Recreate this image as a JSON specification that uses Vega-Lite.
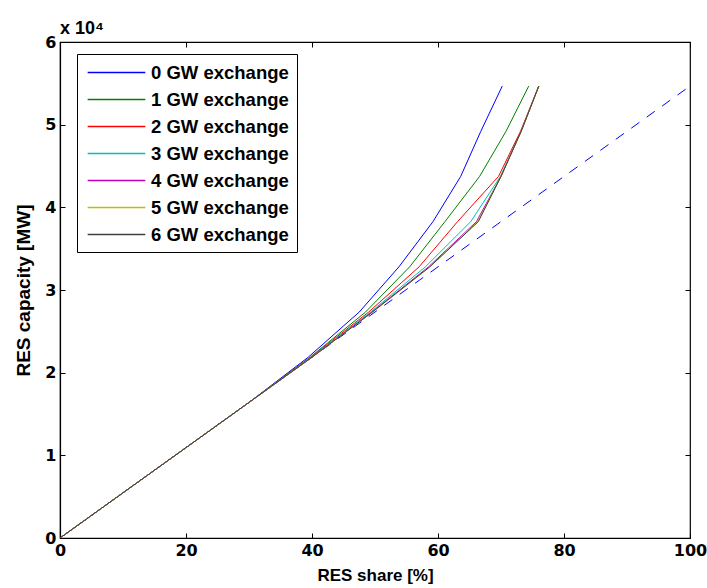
{
  "$schema": "https://vega.github.io/schema/vega-lite/v6.json",
  "width": 630,
  "height": 496,
  "autosize": "none",
  "padding": {"left": 60, "top": 42, "right": 17, "bottom": 50},
  "background": "white",
  "title": {"text": "x 10⁴", "anchor": "start", "frame": "group", "fontSize": 18, "fontWeight": "bold", "font": "Liberation Sans", "offset": -4, "color": "black"},
  "config": {
    "view": {"stroke": "black", "strokeWidth": 1.2},
    "font": "Liberation Sans",
    "axis": {"grid": false, "domainColor": "black", "tickColor": "black", "labelColor": "black", "titleColor": "black", "labelFont": "DejaVu Sans", "titleFont": "Liberation Sans", "labelFontSize": 16, "labelFontWeight": "bold", "titleFontSize": 17, "titleFontWeight": "bold", "tickSize": -5, "domainWidth": 1.2, "tickWidth": 1}
  },
  "datasets": {
    "curves": [
      {"series": "0 GW exchange", "share": 0, "cap": 0},
      {"series": "0 GW exchange", "share": 10, "cap": 5467},
      {"series": "0 GW exchange", "share": 20, "cap": 10934},
      {"series": "0 GW exchange", "share": 30, "cap": 16401},
      {"series": "0 GW exchange", "share": 39.4, "cap": 21868},
      {"series": "0 GW exchange", "share": 47.5, "cap": 27335},
      {"series": "0 GW exchange", "share": 53.8, "cap": 32802},
      {"series": "0 GW exchange", "share": 59.2, "cap": 38269},
      {"series": "0 GW exchange", "share": 63.6, "cap": 43736},
      {"series": "0 GW exchange", "share": 66.8, "cap": 49203},
      {"series": "0 GW exchange", "share": 70.2, "cap": 54670},
      {"series": "1 GW exchange", "share": 0, "cap": 0},
      {"series": "1 GW exchange", "share": 10, "cap": 5467},
      {"series": "1 GW exchange", "share": 20, "cap": 10934},
      {"series": "1 GW exchange", "share": 30, "cap": 16401},
      {"series": "1 GW exchange", "share": 39.7, "cap": 21868},
      {"series": "1 GW exchange", "share": 48.5, "cap": 27335},
      {"series": "1 GW exchange", "share": 55.5, "cap": 32802},
      {"series": "1 GW exchange", "share": 61.1, "cap": 38269},
      {"series": "1 GW exchange", "share": 66.6, "cap": 43736},
      {"series": "1 GW exchange", "share": 70.8, "cap": 49203},
      {"series": "1 GW exchange", "share": 74.4, "cap": 54670},
      {"series": "2 GW exchange", "share": 0, "cap": 0},
      {"series": "2 GW exchange", "share": 10, "cap": 5467},
      {"series": "2 GW exchange", "share": 20, "cap": 10934},
      {"series": "2 GW exchange", "share": 30, "cap": 16401},
      {"series": "2 GW exchange", "share": 39.8, "cap": 21868},
      {"series": "2 GW exchange", "share": 49.0, "cap": 27335},
      {"series": "2 GW exchange", "share": 57.0, "cap": 32802},
      {"series": "2 GW exchange", "share": 63.1, "cap": 38269},
      {"series": "2 GW exchange", "share": 69.6, "cap": 43736},
      {"series": "2 GW exchange", "share": 73.1, "cap": 49203},
      {"series": "2 GW exchange", "share": 76.0, "cap": 54670},
      {"series": "3 GW exchange", "share": 0, "cap": 0},
      {"series": "3 GW exchange", "share": 10, "cap": 5467},
      {"series": "3 GW exchange", "share": 20, "cap": 10934},
      {"series": "3 GW exchange", "share": 30, "cap": 16401},
      {"series": "3 GW exchange", "share": 39.9, "cap": 21868},
      {"series": "3 GW exchange", "share": 49.3, "cap": 27335},
      {"series": "3 GW exchange", "share": 58.0, "cap": 32802},
      {"series": "3 GW exchange", "share": 65.2, "cap": 38269},
      {"series": "3 GW exchange", "share": 69.9, "cap": 43736},
      {"series": "3 GW exchange", "share": 73.2, "cap": 49203},
      {"series": "3 GW exchange", "share": 76.0, "cap": 54670},
      {"series": "4 GW exchange", "share": 0, "cap": 0},
      {"series": "4 GW exchange", "share": 10, "cap": 5467},
      {"series": "4 GW exchange", "share": 20, "cap": 10934},
      {"series": "4 GW exchange", "share": 30, "cap": 16401},
      {"series": "4 GW exchange", "share": 40.0, "cap": 21868},
      {"series": "4 GW exchange", "share": 49.5, "cap": 27335},
      {"series": "4 GW exchange", "share": 58.5, "cap": 32802},
      {"series": "4 GW exchange", "share": 66.1, "cap": 38269},
      {"series": "4 GW exchange", "share": 70.0, "cap": 43736},
      {"series": "4 GW exchange", "share": 73.2, "cap": 49203},
      {"series": "4 GW exchange", "share": 76.0, "cap": 54670},
      {"series": "5 GW exchange", "share": 0, "cap": 0},
      {"series": "5 GW exchange", "share": 10, "cap": 5467},
      {"series": "5 GW exchange", "share": 20, "cap": 10934},
      {"series": "5 GW exchange", "share": 30, "cap": 16401},
      {"series": "5 GW exchange", "share": 40.0, "cap": 21868},
      {"series": "5 GW exchange", "share": 49.6, "cap": 27335},
      {"series": "5 GW exchange", "share": 58.7, "cap": 32802},
      {"series": "5 GW exchange", "share": 66.3, "cap": 38269},
      {"series": "5 GW exchange", "share": 70.0, "cap": 43736},
      {"series": "5 GW exchange", "share": 73.2, "cap": 49203},
      {"series": "5 GW exchange", "share": 76.0, "cap": 54670},
      {"series": "6 GW exchange", "share": 0, "cap": 0},
      {"series": "6 GW exchange", "share": 10, "cap": 5467},
      {"series": "6 GW exchange", "share": 20, "cap": 10934},
      {"series": "6 GW exchange", "share": 30, "cap": 16401},
      {"series": "6 GW exchange", "share": 40.0, "cap": 21868},
      {"series": "6 GW exchange", "share": 49.6, "cap": 27335},
      {"series": "6 GW exchange", "share": 58.7, "cap": 32802},
      {"series": "6 GW exchange", "share": 66.4, "cap": 38269},
      {"series": "6 GW exchange", "share": 70.0, "cap": 43736},
      {"series": "6 GW exchange", "share": 73.2, "cap": 49203},
      {"series": "6 GW exchange", "share": 76.0, "cap": 54670}
    ],
    "ref": [
      {"share": 0, "cap": 0},
      {"share": 100, "cap": 54670}
    ]
  },
  "layer": [
    {
      "data": {"name": "ref"},
      "mark": {"type": "line", "color": "#0000FF", "strokeWidth": 1, "strokeDash": [10, 9], "clip": true},
      "encoding": {
        "x": {"field": "share", "type": "quantitative", "scale": {"domain": [0, 100], "nice": false},
              "axis": {"orient": "top", "labels": false, "title": null, "values": [0, 20, 40, 60, 80, 100], "domain": false}},
        "y": {"field": "cap", "type": "quantitative", "scale": {"domain": [0, 60000], "nice": false},
              "axis": {"orient": "right", "labels": false, "title": null, "values": [0, 10000, 20000, 30000, 40000, 50000, 60000], "domain": false}}
      }
    },
    {
      "data": {"name": "curves"},
      "mark": {"type": "line", "strokeWidth": 1, "clip": true},
      "encoding": {
        "x": {"field": "share", "type": "quantitative", "scale": {"domain": [0, 100], "nice": false},
              "axis": {"orient": "bottom", "title": "RES share [%]", "values": [0, 20, 40, 60, 80, 100], "labelPadding": 9, "titlePadding": 9, "labelFlush": false}},
        "y": {"field": "cap", "type": "quantitative", "scale": {"domain": [0, 60000], "nice": false},
              "axis": {"orient": "left", "title": "RES capacity [MW]", "titleFontSize": 19, "values": [0, 10000, 20000, 30000, 40000, 50000, 60000], "labelExpr": "datum.value / 10000", "labelPadding": 9, "titlePadding": 11, "labelFlush": false}},
        "color": {"field": "series", "type": "nominal",
                  "scale": {"domain": ["0 GW exchange", "1 GW exchange", "2 GW exchange", "3 GW exchange", "4 GW exchange", "5 GW exchange", "6 GW exchange"],
                            "range": ["#0000FF", "#008000", "#FF0000", "#00BFBF", "#BF00BF", "#BFBF00", "#404040"]},
                  "legend": {"orient": "none", "legendX": 17, "legendY": 12, "title": null, "symbolType": "M-3,0H3", "symbolSize": 370, "symbolStrokeWidth": 1.5,
                             "labelFontSize": 18.5, "labelFontWeight": "bold", "labelFont": "Liberation Sans", "labelColor": "black",
                             "strokeColor": "black", "fillColor": "white", "padding": 8, "rowPadding": 7, "labelOffset": 24, "symbolOffset": 21}}
      }
    }
  ],
  "resolve": {"axis": {"x": "independent", "y": "independent"}}
}
